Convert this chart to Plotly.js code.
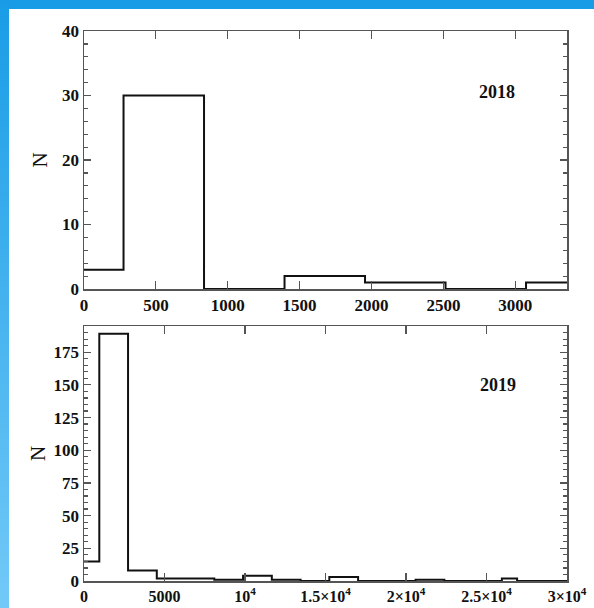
<!DOCTYPE html>
<html>
<head>
<meta charset="utf-8">
<script src="https://cdn.plot.ly/plotly-3.0.1.min.js"></script>
<style>
  html, body { margin: 0; padding: 0; background: #ffffff; width: 594px; height: 608px; overflow: hidden; }
  #topband { position: absolute; left: 0; top: 0; width: 594px; height: 9px; background: #199ce6; }
  #leftband { position: absolute; left: 0; top: 0; width: 9px; height: 608px; background: linear-gradient(#199ce6, #72c9f7); }
  #chart { position: absolute; left: 9px; top: 9px; width: 585px; height: 599px; }
</style>
</head>
<body>
<div id="topband"></div>
<div id="leftband"></div>
<div id="chart"></div>
<script>
// 2018 histogram: bin edges and counts
const edges2018 = [-285, 275, 835, 1395, 1955, 2515, 3075, 3635];
const counts2018 = [3, 30, 0, 2, 1, 0, 1];

// 2019 histogram: bin edges and counts
const edges2019 = [-836, 950, 2736, 4522, 6308, 8094, 9880, 11666, 13452, 15238, 17024, 18810, 20596, 22382, 24168, 25954, 26900, 31312];
const counts2019 = [15, 189, 8, 2, 2, 1, 4, 1, 0, 3, 0, 0, 1, 0, 0, 2, 0];

// tick labels
const xTickVals2019 = [0, 5000, 10000, 15000, 20000, 25000, 30000];
const xTickText2019 = ['0', '5000', '10<sup>4</sup>', '1.5×10<sup>4</sup>', '2×10<sup>4</sup>', '2.5×10<sup>4</sup>', '3×10<sup>4</sup>'];
const labels = ['2018', '2019'];

function stepY(counts) { return counts.concat([counts[counts.length - 1]]); }

const font = { family: 'Liberation Serif, Times New Roman, serif', size: 17, color: '#111', weight: 700 };
const lineStyle = { color: '#111', width: 2, shape: 'hv' };

const traces = [
  { type: 'scatter', mode: 'lines', x: edges2018, y: stepY(counts2018), line: lineStyle, xaxis: 'x', yaxis: 'y', showlegend: false, hoverinfo: 'skip' },
  { type: 'scatter', mode: 'lines', x: edges2019, y: stepY(counts2019), line: lineStyle, xaxis: 'x2', yaxis: 'y2', showlegend: false, hoverinfo: 'skip' }
];

const axisCommon = {
  showline: true, linecolor: '#555', linewidth: 1.5, mirror: 'ticks',
  ticks: 'inside', tickcolor: '#555', tickwidth: 1.2,
  showgrid: false, zeroline: false, tickfont: font
};

const titleFont = { family: 'Liberation Serif, serif', size: 21, color: '#111' };

const layout = {
  width: 585, height: 599,
  margin: { l: 75, r: 27, t: 22, b: 27 },
  paper_bgcolor: '#ffffff', plot_bgcolor: '#ffffff',
  showlegend: false,
  xaxis: Object.assign({}, axisCommon, { range: [0, 3360], dtick: 500, tick0: 0, ticklen: 8, anchor: 'y', domain: [0, 1] }),
  yaxis: Object.assign({}, axisCommon, { range: [0, 40], dtick: 10, ticklen: 7, domain: [0.5309, 1], anchor: 'x',
    minor: { dtick: 2, ticklen: 4, ticks: 'inside', tickcolor: '#555' },
    title: { text: 'N', font: titleFont, standoff: 8 } }),
  xaxis2: Object.assign({}, axisCommon, { range: [0, 30000], tickvals: xTickVals2019, ticktext: xTickText2019, ticklen: 8, anchor: 'y2', domain: [0, 1],
    tickfont: Object.assign({}, font, { size: 16 }) }),
  yaxis2: Object.assign({}, axisCommon, { range: [0, 195], dtick: 25, ticklen: 7, domain: [0, 0.4636], anchor: 'x2',
    minor: { dtick: 5, ticklen: 4, ticks: 'inside', tickcolor: '#555' },
    title: { text: 'N', font: titleFont, standoff: 2 } }),
  annotations: [
    { text: labels[0], xref: 'x domain', yref: 'y domain', x: 0.896, y: 0.81, showarrow: false, font: Object.assign({}, font, { size: 18 }) },
    { text: labels[1], xref: 'x2 domain', yref: 'y2 domain', x: 0.899, y: 0.814, showarrow: false, font: Object.assign({}, font, { size: 18 }) }
  ]
};

Plotly.newPlot('chart', traces, layout, { staticPlot: true, displayModeBar: false });
</script>
</body>
</html>
